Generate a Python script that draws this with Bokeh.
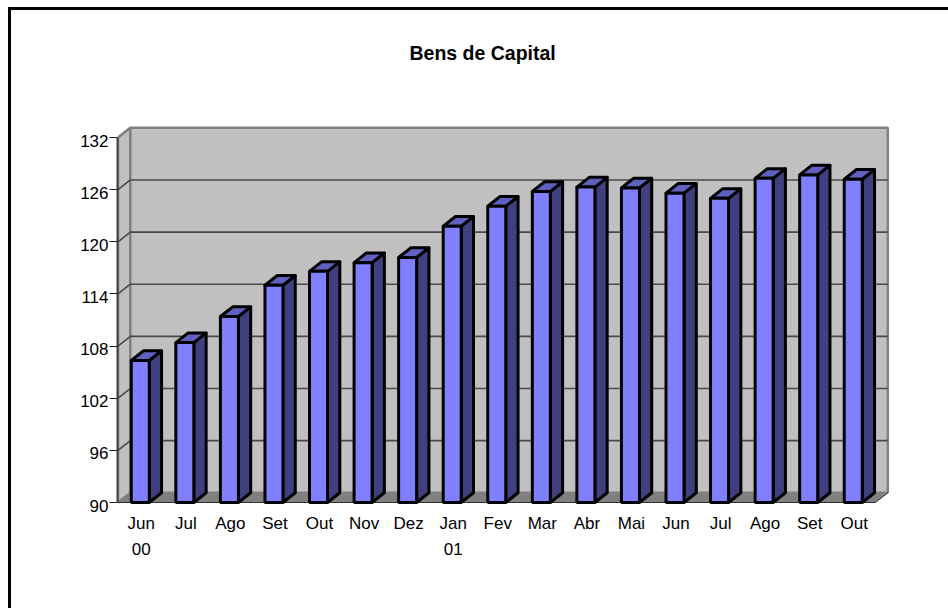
from bokeh.plotting import figure
from bokeh.models import LinearAxis, FixedTicker, Title
from bokeh.embed import file_html
from bokeh.resources import INLINE

title = "Bens de Capital"
months = ["Jun", "Jul", "Ago", "Set", "Out", "Nov", "Dez", "Jan", "Fev", "Mar",
          "Abr", "Mai", "Jun", "Jul", "Ago", "Set", "Out"]
years = {0: "00", 7: "01"}
values = [106.35, 108.4, 111.4, 115.0, 116.6, 117.6, 118.2, 121.8, 124.1, 125.8,
          126.3, 126.2, 125.6, 125.0, 127.3, 127.7, 127.2]
y_ticks = [90, 96, 102, 108, 114, 120, 126, 132]

FONT = "Liberation Sans"
PX_X = 44.56          # pixels per category
PX_Y = 52.14 / 6      # pixels per value unit
DX = 12.3 / PX_X      # depth of the 3D effect
DY = 9.7 / PX_Y
BAR = 18.0 / PX_X
n = len(months)
ymin, ymax = y_ticks[0], y_ticks[-1]

# the canvas starts at page pixel (11, 10), inside the outer frame's border
W, H = 940, 601
left, top, right, bottom = 106, 110, 62, 103
x0 = -0.5 / PX_X
y0 = ymin - 6 / PX_Y
p = figure(width=W, height=H, output_backend="svg", toolbar_location=None,
           x_range=(x0, x0 + (W - left - right) / PX_X),
           y_range=(y0, y0 + (H - top - bottom) / PX_Y),
           x_axis_type=None, y_axis_type=None,
           min_border_left=left, min_border_top=top,
           min_border_right=right, min_border_bottom=bottom,
           outline_line_color=None, background_fill_color="white",
           margin=(7, 0, 0, 8),
           styles={"border-left": "3px solid black", "border-top": "3px solid black"})
p.grid.visible = False
p.title.text = title
p.title.align = "left"
p.title.offset = 292
p.title.standoff = 0
p.title.text_font = FONT
p.title.text_font_style = "bold"
p.title.text_font_size = "19.5px"
p.title.text_color = "black"
# empty panel that holds the title away from the plot area
p.add_layout(Title(text=" ", standoff=54, text_font_size="1px"), "above")

# walls and floor
WALL, EDGE, GRID = "#c0c0c0", "#808080", "#4a4a4a"
p.patch([0, DX, DX, 0], [ymin, ymin + DY, ymax + DY, ymax],
        fill_color=WALL, line_color=EDGE, line_width=2.5)
p.quad(left=[DX], right=[n + DX], bottom=[ymin + DY], top=[ymax + DY],
       fill_color=WALL, line_color=EDGE, line_width=2.5)
p.patch([0, n, n + DX, DX], [ymin, ymin, ymin + DY, ymin + DY],
        fill_color=EDGE, line_color=None)
p.line([0, n, n + DX], [ymin, ymin, ymin + DY], line_color="#303030", line_width=1)

# gridlines
gx = [[0, DX, n + DX] for v in y_ticks[1:-1]]
gy = [[v, v + DY, v + DY] for v in y_ticks[1:-1]]
p.multi_line(gx, gy, line_color=GRID, line_width=1.6)

# bars
lefts = [i + 0.5 - BAR / 2 for i in range(n)]
rights = [i + 0.5 + BAR / 2 for i in range(n)]
LW = 3
side_x = [[r, r + DX, r + DX, r] for r in rights]
side_y = [[ymin, ymin + DY, v + DY, v] for v in values]
top_x = [[l, l + DX, r + DX, r] for l, r in zip(lefts, rights)]
top_y = [[v, v + DY, v + DY, v] for v in values]
p.patches(side_x, side_y, fill_color="#404080", line_color="black", line_width=LW, line_join="round")
p.patches(top_x, top_y, fill_color="#6060c0", line_color="black", line_width=LW, line_join="round")
p.quad(left=lefts, right=rights, bottom=[ymin] * n, top=values,
       fill_color="#8080ff", line_color="black", line_width=LW)

# axes: line and ticks on one axis, the labels on a second one, set slightly lower as in the reference
yaxis = LinearAxis(ticker=FixedTicker(ticks=y_ticks), bounds=(ymin, ymax),
                   major_label_overrides={v: "" for v in y_ticks},
                   axis_line_color="#404040", axis_line_width=2,
                   major_tick_in=0, major_tick_out=8, major_tick_line_color="#202020",
                   minor_tick_line_color=None, major_label_standoff=0)
p.add_layout(yaxis, "left")
LABEL_SHIFT = 3 / PX_Y
ylabels = LinearAxis(ticker=FixedTicker(ticks=[v - LABEL_SHIFT for v in y_ticks]),
                     major_label_overrides={v - LABEL_SHIFT: str(v) for v in y_ticks},
                     axis_line_color=None, major_tick_line_color=None, minor_tick_line_color=None,
                     major_tick_in=0, major_tick_out=0, major_label_standoff=1,
                     major_label_text_font=FONT, major_label_text_font_size="17px",
                     major_label_text_color="black")
p.add_layout(ylabels, "left")

LABEL_DX = 1 / PX_X
centers = [i + 0.5 + LABEL_DX for i in range(n)]
xaxis = LinearAxis(ticker=FixedTicker(ticks=centers),
                   major_label_overrides={c: m for c, m in zip(centers, months)},
                   axis_line_color=None, major_tick_line_color=None, minor_tick_line_color=None,
                   major_tick_in=0, major_tick_out=0, major_label_standoff=5,
                   major_label_text_font=FONT, major_label_text_font_size="17px",
                   major_label_text_color="black")
p.add_layout(xaxis, "below")

yr_centers = [i + 0.5 + LABEL_DX for i in years]
xaxis2 = LinearAxis(ticker=FixedTicker(ticks=yr_centers),
                    major_label_overrides={i + 0.5 + LABEL_DX: s for i, s in years.items()},
                    axis_line_color=None, major_tick_line_color=None, minor_tick_line_color=None,
                    major_tick_in=0, major_tick_out=0, major_label_standoff=7,
                    major_label_text_font=FONT, major_label_text_font_size="17px",
                    major_label_text_color="black")
p.add_layout(xaxis2, "below")

open("out.html", "w").write(file_html(p, INLINE))
